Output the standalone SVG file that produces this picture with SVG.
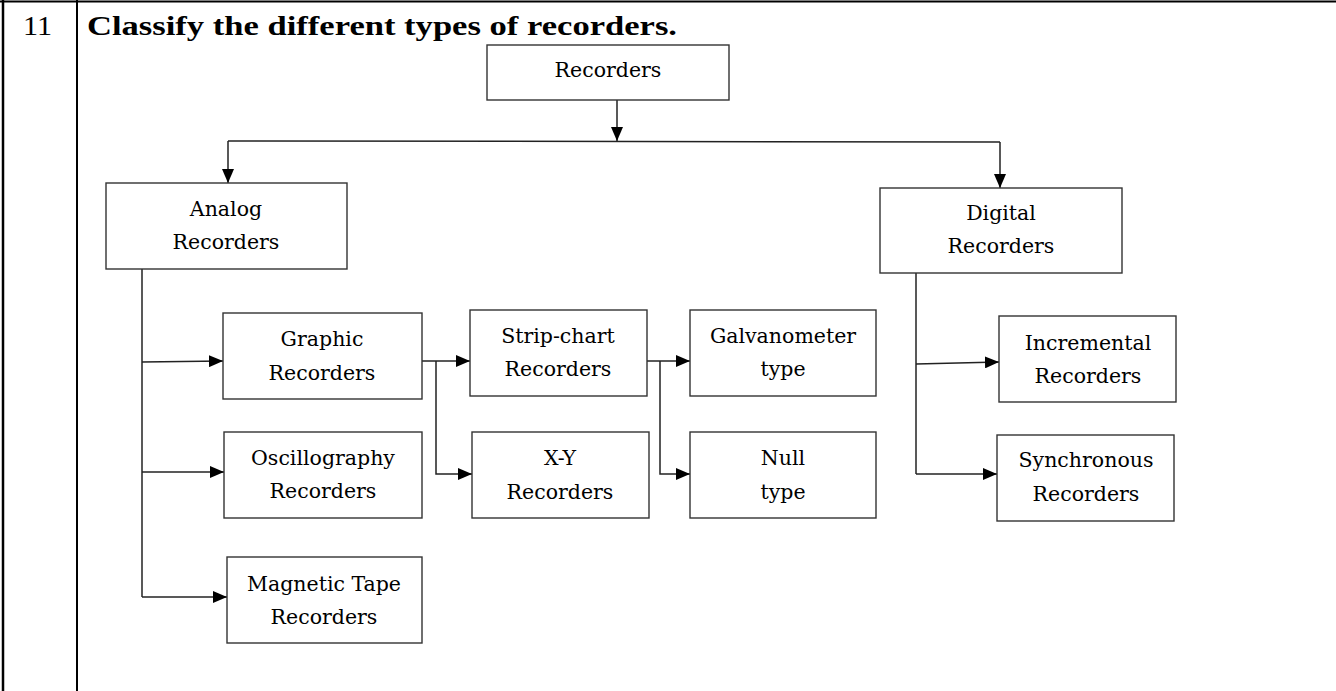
<svg xmlns="http://www.w3.org/2000/svg" width="1336" height="691" viewBox="0 0 1336 691">
<defs>
<marker id="arr" markerWidth="14" markerHeight="12" refX="14" refY="6" orient="auto" markerUnits="userSpaceOnUse">
<path d="M0,0 L14,6 L0,12 Z" fill="#000"/>
</marker>
<style>
.box{fill:#fff;stroke:#333;stroke-width:1.4}
.lbl{font-family:"DejaVu Serif","Liberation Serif",serif;font-size:20.5px;fill:#000;text-anchor:middle}
.ln{fill:none;stroke:#222;stroke-width:1.5}
.ar{fill:none;stroke:#222;stroke-width:1.5;marker-end:url(#arr)}
.tbl{stroke:#000;fill:none}
</style>
</defs>
<rect width="1336" height="691" fill="#fff"/>
<g id="table">
<line class="tbl" x1="0" y1="1.5" x2="1336" y2="1.5" stroke-width="2"/>
<line class="tbl" x1="3" y1="0" x2="3" y2="691" stroke-width="2.5"/>
<line class="tbl" x1="77" y1="0" x2="77" y2="691" stroke-width="2"/>
<text x="23" y="35" font-family="Liberation Serif, serif" font-size="27" textLength="29" lengthAdjust="spacingAndGlyphs">11</text>
<text x="87" y="35" font-family="Liberation Serif, serif" font-size="28" font-weight="bold" textLength="590" lengthAdjust="spacingAndGlyphs">Classify the different types of recorders.</text>
</g>
<g id="connectors">
<line class="ar" x1="617" y1="100" x2="617" y2="141"/>
<polyline class="ln" points="228,141 1000,142"/>
<line class="ar" x1="228" y1="141" x2="228" y2="183"/>
<line class="ar" x1="1000" y1="142" x2="1000" y2="188"/>
<polyline class="ln" points="142,269 142,597"/>
<line class="ar" x1="142" y1="362" x2="223" y2="361"/>
<line class="ar" x1="142" y1="472" x2="224" y2="472"/>
<line class="ar" x1="142" y1="597" x2="227" y2="597"/>
<line class="ar" x1="422" y1="361" x2="470" y2="361"/>
<polyline class="ar" points="436,361 436,474 472,474"/>
<line class="ar" x1="647" y1="361" x2="690" y2="361"/>
<polyline class="ar" points="660,361 660,474 690,474"/>
<polyline class="ln" points="916,273 916,474"/>
<line class="ar" x1="916" y1="364" x2="999" y2="362"/>
<line class="ar" x1="916" y1="474" x2="997" y2="474"/>
</g>
<g id="recorders">
<rect class="box" x="487" y="45" width="242" height="55"/>
<text class="lbl" x="608" y="77">Recorders</text>
</g>
<g id="analog">
<rect class="box" x="106" y="183" width="241" height="86"/>
<text class="lbl" x="226" y="216">Analog</text>
<text class="lbl" x="226" y="249">Recorders</text>
</g>
<g id="digital">
<rect class="box" x="880" y="188" width="242" height="85"/>
<text class="lbl" x="1001" y="220">Digital</text>
<text class="lbl" x="1001" y="253">Recorders</text>
</g>
<g id="graphic">
<rect class="box" x="223" y="313" width="199" height="86"/>
<text class="lbl" x="322" y="346">Graphic</text>
<text class="lbl" x="322" y="380">Recorders</text>
</g>
<g id="oscillography">
<rect class="box" x="224" y="432" width="198" height="86"/>
<text class="lbl" x="323" y="465">Oscillography</text>
<text class="lbl" x="323" y="498">Recorders</text>
</g>
<g id="magnetic">
<rect class="box" x="227" y="557" width="195" height="86"/>
<text class="lbl" x="324" y="591">Magnetic Tape</text>
<text class="lbl" x="324" y="624">Recorders</text>
</g>
<g id="stripchart">
<rect class="box" x="470" y="310" width="177" height="86"/>
<text class="lbl" x="558" y="343">Strip-chart</text>
<text class="lbl" x="558" y="376">Recorders</text>
</g>
<g id="xy">
<rect class="box" x="472" y="432" width="177" height="86"/>
<text class="lbl" x="560" y="465">X-Y</text>
<text class="lbl" x="560" y="499">Recorders</text>
</g>
<g id="galvanometer">
<rect class="box" x="690" y="310" width="186" height="86"/>
<text class="lbl" x="783" y="343">Galvanometer</text>
<text class="lbl" x="783" y="376">type</text>
</g>
<g id="null">
<rect class="box" x="690" y="432" width="186" height="86"/>
<text class="lbl" x="783" y="465">Null</text>
<text class="lbl" x="783" y="499">type</text>
</g>
<g id="incremental">
<rect class="box" x="999" y="316" width="177" height="86"/>
<text class="lbl" x="1088" y="350">Incremental</text>
<text class="lbl" x="1088" y="383">Recorders</text>
</g>
<g id="synchronous">
<rect class="box" x="997" y="435" width="177" height="86"/>
<text class="lbl" x="1086" y="467">Synchronous</text>
<text class="lbl" x="1086" y="501">Recorders</text>
</g>
</svg>
